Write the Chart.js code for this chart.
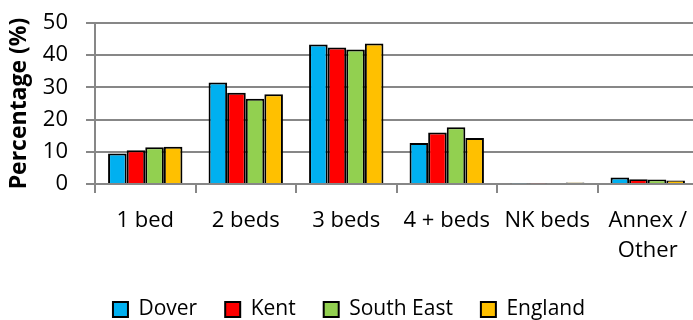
<!DOCTYPE html>
<html>
<head>
<meta charset="utf-8">
<script src="https://cdn.jsdelivr.net/npm/chart.js@4.4.1/dist/chart.umd.min.js"></script>
<style>
  html, body { margin: 0; padding: 0; background: #fff; overflow: hidden; }
  #wrap { width: 705px; height: 330px; }
</style>
</head>
<body>
<div id="wrap"><canvas id="chart" width="705" height="330"></canvas></div>
<script>
const categories = ['1 bed', '2 beds', '3 beds', '4 + beds', 'NK beds', ['Annex /', 'Other']];
const dover = [9.5, 31.5, 43.3, 12.7, 0.2, 2.0];
const kent = [10.5, 28.3, 42.4, 16.0, 0.2, 1.5];
const southEast = [11.4, 26.5, 41.8, 17.6, 0.3, 1.4];
const england = [11.6, 27.9, 43.6, 14.3, 0.5, 1.1];
const yTicks = [0, 10, 20, 30, 40, 50];

const gridGrey = '#878787';
const fontFamily = '"Open Sans", sans-serif';

const series = [
  { label: 'Dover', data: dover, color: '#00B0F0' },
  { label: 'Kent', data: kent, color: '#FF0000' },
  { label: 'South East', data: southEast, color: '#92D050' },
  { label: 'England', data: england, color: '#FFC000' },
];

new Chart(document.getElementById('chart'), {
  type: 'bar',
  data: {
    labels: categories,
    datasets: series.map((s) => ({
      label: s.label,
      data: s.data,
      backgroundColor: s.color,
      borderColor: '#000',
      borderWidth: 2,
      categoryPercentage: 0.74,
      barPercentage: 1,
    })),
  },
  options: {
    responsive: false,
    animation: false,
    layout: { padding: { top: 23, right: 7, left: 0, bottom: 0 } },
    plugins: {
      tooltip: { enabled: false },
      legend: {
        position: 'bottom',
        labels: {
          color: '#000',
          font: { family: fontFamily, size: 21 },
          boxWidth: 15,
          boxHeight: 15,
          padding: 28,
        },
      },
    },
    scales: {
      x: {
        grid: {
          drawOnChartArea: false,
          color: gridGrey,
          lineWidth: 2,
          tickLength: 9,
        },
        border: { color: gridGrey, width: 2 },
        ticks: {
          color: '#000',
          font: { family: fontFamily, size: 22, lineHeight: 1.4 },
          maxRotation: 0,
          autoSkip: false,
          padding: 12,
        },
        afterFit: (scale) => {
          scale.height = 87;
        },
      },
      y: {
        min: 0,
        max: 50,
        afterBuildTicks: (scale) => {
          scale.ticks = yTicks.map((v) => ({ value: v }));
        },
        grid: { color: gridGrey, lineWidth: 2, tickLength: 9 },
        border: { color: gridGrey, width: 2 },
        ticks: {
          color: '#000',
          font: { family: fontFamily, size: 22 },
          padding: 18,
          autoSkip: false,
        },
        title: {
          display: true,
          text: 'Percentage (%)',
          color: '#000',
          font: { family: fontFamily, size: 23, weight: 'bold' },
          padding: { top: 6, bottom: 0 },
        },
        afterFit: (scale) => {
          scale.width = 95;
          scale.paddingTop = 0;
          scale.paddingBottom = 0;
        },
      },
    },
  },
});
</script>
</body>
</html>
